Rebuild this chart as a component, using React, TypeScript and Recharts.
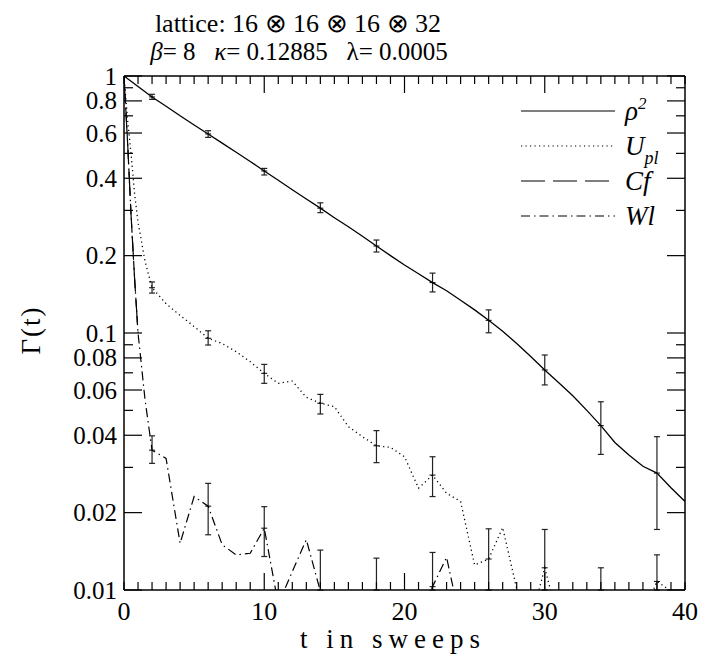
import React from 'react';
import { LineChart, Line, XAxis, YAxis, ErrorBar, Legend } from 'recharts';

// ---------- data ----------
const RHO_T = [0,1,2,3,4,5,6,7,8,9,10,11,12,13,14,15,16,17,18,19,20,21,22,23,24,25,26,27,28,29,30,31,32,33,34,35,36,37,38,39,40];
const RHO = [1.0,0.91,0.829,0.763,0.70,0.645,0.595,0.548,0.505,0.465,0.427,0.393,0.361,0.332,0.306,0.281,0.259,0.238,0.218,0.200,0.184,0.170,0.157,0.146,0.134,0.123,0.112,0.1015,0.091,0.081,0.0718,0.064,0.057,0.050,0.0436,0.0375,0.0335,0.0303,0.0285,0.025,0.0221];
const RHO_ERR_T = [2,6,10,14,18,22,26,30,34,38];
const RHO_ERR_LO = [0.811,0.577,0.412,0.294,0.2066,0.1445,0.1002,0.0628,0.0337,0.0172];
const RHO_ERR_HI = [0.849,0.6125,0.437,0.321,0.230,0.171,0.123,0.0821,0.054,0.0395];

const UPL_T = [0,0.25,0.5,0.75,1,1.5,2,3,4,5,6,7,8,9,10,11,12,13,14,15,16,17,18,19,20,21,22,23,24,25,26,27,28,29,30,31,32,33,34,35,36,37,38,39,40];
const UPL = [1.0,0.68,0.50,0.35,0.27,0.19,0.15,0.13,0.117,0.106,0.0954,0.091,0.0846,0.0773,0.0697,0.0637,0.065,0.0562,0.0533,0.0517,0.0432,0.0395,0.0364,0.0359,0.033,0.0249,0.028,0.0238,0.0221,0.0125,0.0132,0.0175,0.0101,0.0075,0.0122,0.0075,0.006,0.006,0.007,0.006,0.006,0.008,0.0108,0.0099,0.009];
const UPL_ERR_T = [2,6,10,14,18,22,26,30,34,38];
const UPL_ERR_LO = [0.143,0.0898,0.0637,0.0484,0.0313,0.0231,0.01,0.01,0.01,0.01];
const UPL_ERR_HI = [0.158,0.102,0.0755,0.0577,0.0417,0.033,0.0173,0.0172,0.0122,0.0137];

const CF_T = [0,0.25,0.5,0.75,1];
const CF = [1.0,0.56,0.29,0.165,0.1];

const WL_T = [0,0.25,0.5,0.75,1,1.5,2,3,4,5,6,7,8,9,10,11,12,13,14,15,16,17,18,19,20,21,22,23,24,25,26,27,28,29,30,31,32,33,34,35,36,37,38,39,40];
const WL = [1.0,0.56,0.29,0.165,0.1,0.055,0.035,0.0325,0.0152,0.0231,0.0212,0.015,0.0137,0.0139,0.0174,0.0088,0.0118,0.0157,0.0099,0.007,0.006,0.007,0.008,0.007,0.007,0.008,0.0103,0.0134,0.0075,0.006,0.006,0.006,0.006,0.006,0.006,0.006,0.006,0.006,0.006,0.006,0.006,0.006,0.006,0.006,0.006];
const WL_ERR_T = [2,6,10,14,18,22];
const WL_ERR_LO = [0.0311,0.0164,0.0135,0.01,0.01,0.01];
const WL_ERR_HI = [0.0398,0.026,0.0211,0.0143,0.0133,0.014];

const X_TICKS = [0,1,2,3,4,5,6,7,8,9,10,11,12,13,14,15,16,17,18,19,20,21,22,23,24,25,26,27,28,29,30,31,32,33,34,35,36,37,38,39,40];
const X_LABELS = [0,10,20,30,40];
const X_MAJOR = [10,20,30];
const Y_TICKS = [0.01,0.02,0.03,0.04,0.05,0.06,0.07,0.08,0.09,0.1,0.2,0.3,0.4,0.5,0.6,0.7,0.8,0.9,1];
const Y_LABELS = [0.01,0.02,0.04,0.06,0.08,0.1,0.2,0.4,0.6,0.8,1];

const SERIES_NAMES = ['rho', 'upl', 'cf', 'wl'];

// ---------- helpers ----------
const Y_MIN = 0.01;
function build(ts: number[], vs: number[], et: number[], lo: number[], hi: number[]) {
  return ts.map((t, i) => {
    const v = vs[i];
    const k = et.indexOf(t);
    if (k < 0) return { t, v };
    const low = Math.max(lo[k], Y_MIN);
    return { t, v, err: [v - low, hi[k] - v] };
  });
}

const rhoData = build(RHO_T, RHO, RHO_ERR_T, RHO_ERR_LO, RHO_ERR_HI);
const uplData = build(UPL_T, UPL, UPL_ERR_T, UPL_ERR_LO, UPL_ERR_HI);
const cfData = build(CF_T, CF, [], [], []);
const wlData = build(WL_T, WL, WL_ERR_T, WL_ERR_LO, WL_ERR_HI);

const FONT = 'Liberation Serif';
const INK = '#000';

const ErrMark = (p: any) => {
  const { cx, cy, payload, index } = p;
  if (!payload || !payload.err || payload.v < Y_MIN || cx == null || cy == null) return <g key={`e${index}`} />;
  return <line key={`m${index}`} x1={cx - 3} x2={cx + 3} y1={cy} y2={cy} stroke={INK} strokeWidth={1} />;
};

const BottomTick = (p: any) => {
  const { x, y, payload } = p;
  const v = payload.value;
  const len = X_MAJOR.includes(v) ? 17 : 8;
  return (
    <g>
      <line x1={x} x2={x} y1={y} y2={y - len} stroke={INK} strokeWidth={1.2} />
      {X_LABELS.includes(v) && (
        <text x={x} y={y + 30} textAnchor="middle" style={{ fontFamily: FONT }} fontSize={26} fill={INK}>{v}</text>
      )}
    </g>
  );
};

const TopTick = (p: any) => {
  const { x, y, payload } = p;
  const v = payload.value;
  const len = X_MAJOR.includes(v) ? 17 : 8;
  return <line x1={x} x2={x} y1={y} y2={y + len} stroke={INK} strokeWidth={1.2} />;
};

const LeftTick = (p: any) => {
  const { x, y, payload } = p;
  const v = payload.value;
  const lab = Y_LABELS.includes(v);
  return (
    <g>
      <line x1={x} x2={x + (lab ? 18 : 9)} y1={y} y2={y} stroke={INK} strokeWidth={1.2} />
      {lab && (
        <text x={x - 7} y={y} dy="0.34em" textAnchor="end" style={{ fontFamily: FONT }} fontSize={25} fill={INK}>{String(v)}</text>
      )}
    </g>
  );
};

const RightTick = (p: any) => {
  const { x, y, payload } = p;
  const v = payload.value;
  const lab = Y_LABELS.includes(v);
  return <line x1={x} x2={x - (lab ? 18 : 9)} y1={y} y2={y} stroke={INK} strokeWidth={1.2} />;
};

const DASHES: Record<string, string | undefined> = {
  rho: undefined,
  upl: '1.2 3.3',
  cf: '24 8',
  wl: '9 4 1.5 4',
};

const legendLabel = (name: string) => {
  if (name === 'rho') return (<><tspan>ρ</tspan><tspan dy={-11} fontSize={17}>2</tspan></>);
  if (name === 'upl') return (<><tspan>U</tspan><tspan dy={9} fontSize={18}>pl</tspan></>);
  if (name === 'cf') return <tspan>Cf</tspan>;
  return <tspan>Wl</tspan>;
};

const LegendContent = () => (
  <svg width={170} height={140} style={{ display: 'block' }}>
    {SERIES_NAMES.map((n, i) => (
      <g key={n} transform={`translate(0, ${i * 35})`}>
        <line x1={6} x2={100} y1={17} y2={17} stroke={INK} strokeWidth={1.2} strokeDasharray={DASHES[n]} />
        <text x={110} y={17} dy="0.35em" style={{ fontFamily: FONT, fontStyle: 'italic' }} fontSize={27} fill={INK}>
          {legendLabel(n)}
        </text>
      </g>
    ))}
  </svg>
);

export default function App() {
  return (
    <div style={{ position: 'absolute', left: 0, top: 0, width: 702, height: 660, background: '#fff' }}>
      <LineChart width={702} height={660} margin={{ top: 75, right: 16, bottom: 69, left: 123 }}>
        <XAxis xAxisId="b" type="number" dataKey="t" domain={[0, 40]} allowDataOverflow ticks={X_TICKS} interval={0}
          height={1} tickSize={0} tickMargin={0} tickLine={false} axisLine={{ stroke: INK, strokeWidth: 1.5 }} tick={BottomTick} />
        <XAxis xAxisId="t" orientation="top" type="number" dataKey="t" domain={[0, 40]} allowDataOverflow ticks={X_TICKS} interval={0}
          height={1} tickSize={0} tickMargin={0} tickLine={false} axisLine={{ stroke: INK, strokeWidth: 1.5 }} tick={TopTick} />
        <YAxis yAxisId="l" type="number" scale="log" domain={[0.01, 1]} allowDataOverflow ticks={Y_TICKS} interval={0}
          width={1} tickSize={0} tickMargin={0} tickLine={false} axisLine={{ stroke: INK, strokeWidth: 1.5 }} tick={LeftTick} />
        <YAxis yAxisId="r" orientation="right" type="number" scale="log" domain={[0.01, 1]} allowDataOverflow ticks={Y_TICKS} interval={0}
          width={1} tickSize={0} tickMargin={0} tickLine={false} axisLine={{ stroke: INK, strokeWidth: 1.5 }} tick={RightTick} />
        <Line data={cfData} dataKey="v" name="cf" xAxisId="b" yAxisId="l" type="linear" stroke={INK} strokeWidth={1.2}
          strokeDasharray={DASHES.cf} dot={false} activeDot={false} isAnimationActive={false} />
        <Line data={wlData} dataKey="v" name="wl" xAxisId="b" yAxisId="l" type="linear" stroke={INK} strokeWidth={1.2}
          strokeDasharray={DASHES.wl} dot={ErrMark} activeDot={false} isAnimationActive={false}>
          <ErrorBar dataKey="err" width={3} stroke="#222" strokeWidth={1.2} direction="y" />
        </Line>
        <Line data={uplData} dataKey="v" name="upl" xAxisId="b" yAxisId="l" type="linear" stroke={INK} strokeWidth={1.3}
          strokeDasharray={DASHES.upl} dot={ErrMark} activeDot={false} isAnimationActive={false}>
          <ErrorBar dataKey="err" width={3} stroke="#222" strokeWidth={1.2} direction="y" />
        </Line>
        <Line data={rhoData} dataKey="v" name="rho" xAxisId="b" yAxisId="l" type="linear" stroke={INK} strokeWidth={1.3}
          dot={ErrMark} activeDot={false} isAnimationActive={false}>
          <ErrorBar dataKey="err" width={3} stroke="#222" strokeWidth={1.2} direction="y" />
        </Line>
        <Legend layout="vertical" align="center" verticalAlign="middle" content={LegendContent}
          wrapperStyle={{ position: 'absolute', left: 515, top: 94, right: 'auto', bottom: 'auto', width: 170, height: 140 }} />
      </LineChart>
      <svg width={702} height={660} style={{ position: 'absolute', left: 0, top: 0, pointerEvents: 'none' }}>
        <text x={298} y={32} textAnchor="middle" style={{ fontFamily: FONT, whiteSpace: 'pre' }} fontSize={26} fill={INK}>
          lattice: 16 ⊗ 16 ⊗ 16 ⊗ 32
        </text>
        <text x={299} y={60} textAnchor="middle" style={{ fontFamily: FONT, whiteSpace: 'pre' }} fontSize={25} fill={INK}>
          <tspan fontStyle="italic">β</tspan>{'= 8   '}<tspan fontStyle="italic">κ</tspan>{'= 0.12885   λ= 0.0005'}
        </text>
        <text x={393} y={648} textAnchor="middle" style={{ fontFamily: FONT }} fontSize={27} letterSpacing={6} fill={INK}>t in sweeps</text>
        <text x={0} y={0} transform="translate(40, 330) rotate(-90)" textAnchor="middle" style={{ fontFamily: FONT }} fontSize={27} letterSpacing={2} fill={INK}>Γ(t)</text>
      </svg>
    </div>
  );
}
